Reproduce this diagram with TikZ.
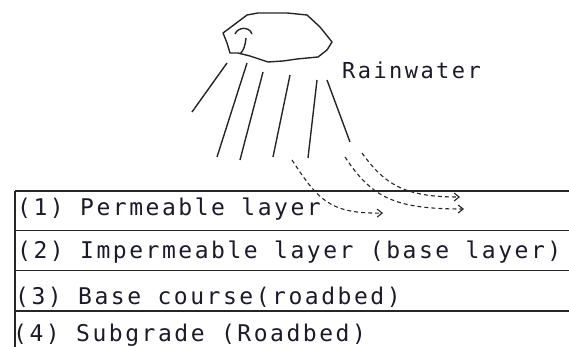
\documentclass[tikz,border=0pt]{standalone}
\usepackage{fontspec}
\usetikzlibrary{arrows.meta}
\newfontfamily\gothic[LetterSpace=11]{DejaVu Sans Mono}
\definecolor{Ink}{HTML}{1C1A2A}
\definecolor{Rule}{HTML}{262626}
\tikzset{
    layertext/.style={anchor=base west, inner sep=0pt, text=Ink, font=\gothic\fontsize{23}{27}\selectfont},
    rainline/.style={line width=1.4pt, color=Rule},
    seepline/.style={line width=1.1pt, color=Rule, dash pattern=on 4pt off 3pt, -{Straight Barb[length=5pt,width=8pt]}},
    frameline/.style={line width=1.7pt, color=Rule},
}

\begin{document}
\begin{tikzpicture}[x=1pt, y=-1pt]
        \useasboundingbox (0,0) rectangle (569,347);

        % Cloud
        \draw[rainline, line join=round] (223,33) -- (247,15) -- (258,13) -- (287,13) -- (307,15)
            -- (320,27) -- (332,42) -- (327,50) -- (318,57) -- (297,59) -- (283,61)
            -- (268,62) -- (250,56) -- (238,53) -- (230,53) -- (227,43) -- cycle;
        \draw[rainline] (235,34) .. controls (238,27) and (249,26) .. (252,34);
        \draw[rainline] (246,38) .. controls (245,46) and (244,50) .. (240,54);

        % Rain
        \draw[rainline] (227,63) -- (192,112);
        \draw[rainline] (247,63) -- (217,157);
        \draw[rainline] (263,72) -- (240,160);
        \draw[rainline] (290,75) -- (273,157);
        \draw[rainline] (317,80) -- (308,158);
        \draw[rainline] (327,80) -- (350,142);
        \node[layertext, font=\gothic\fontsize{22}{26}\selectfont] (rainlbl) at (342,79) {Rainwater};

        % Water soaking into the top layer
        \draw[seepline] (292,160) .. controls (318,200) and (330,214) .. (383,213);
        \draw[seepline] (345,157) .. controls (372,198) and (395,209) .. (464,209);
        \draw[seepline] (362,153) .. controls (385,185) and (405,197) .. (460,197);

        % Layers
        \draw[frameline] (15,347) -- (15,191);
        \foreach \y in {191,230.5,270.5,311}
            \draw[frameline] (15,\y) -- (569,\y);

        \node[layertext] (layer1) at (17,215) {(1) Permeable layer};
        \node[layertext] (layer2) at (17,258) {(2) Impermeable layer (base layer)};
        \node[layertext] (layer3) at (15,304) {(3) Base course(roadbed)};
        \node[layertext] (layer4) at (13,341) {(4) Subgrade (Roadbed)};
    \end{tikzpicture}
\end{document}
